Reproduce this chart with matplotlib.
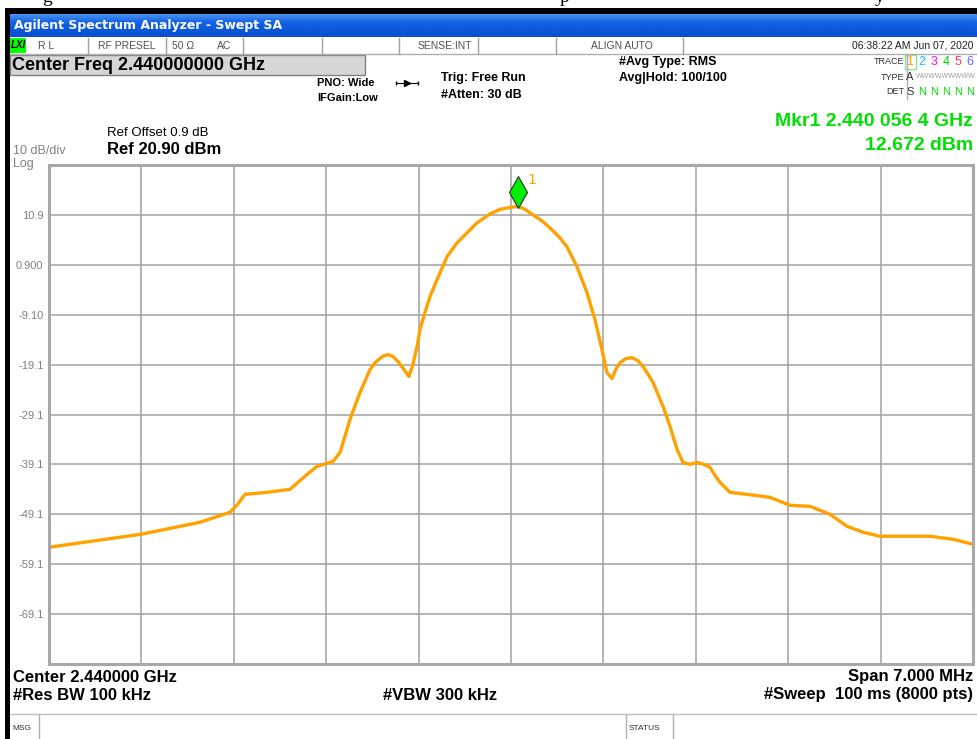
import numpy as np
import matplotlib
matplotlib.use('Agg')
import matplotlib.pyplot as plt
from matplotlib import transforms
from matplotlib.patches import Rectangle

plt.rcParams['font.family'] = ['Liberation Sans', 'DejaVu Sans']

# trace: offset from center (MHz) and level (dBm)
freq_offset_mhz = [-3.500, -2.803, -2.356, -2.129, -2.068, -2.015, -1.848, -1.674,
                   -1.545, -1.470, -1.348, -1.295, -1.220, -1.144, -1.068, -1.030,
                   -0.970, -0.932, -0.894, -0.856, -0.818, -0.773, -0.742, -0.712,
                   -0.689, -0.652, -0.614, -0.561, -0.485, -0.409, -0.333, -0.258,
                   -0.159, -0.083, -0.008, 0.056, 0.106, 0.167, 0.235, 0.295,
                   0.371, 0.424, 0.500, 0.576, 0.636, 0.689, 0.727, 0.765,
                   0.795, 0.826, 0.871, 0.917, 0.962, 1.000, 1.038, 1.076,
                   1.152, 1.205, 1.258, 1.303, 1.356, 1.409, 1.462, 1.508,
                   1.545, 1.583, 1.659, 1.788, 1.962, 2.114, 2.265, 2.417,
                   2.545, 2.667, 2.795, 3.000, 3.174, 3.348, 3.500]
level_dbm = [-55.7, -53.1, -50.7, -48.7, -47.0, -45.1, -44.7, -44.1,
             -41.1, -39.5, -38.5, -36.7, -30.1, -24.7, -20.1, -18.7,
             -17.4, -17.1, -17.5, -18.5, -19.8, -21.5, -19.0, -15.5,
             -12.0, -8.7, -5.5, -2.1, 2.5, 5.3, 7.3, 9.3,
             11.1, 12.0, 12.4, 12.6, 12.0, 10.9, 9.7, 8.3,
             6.3, 4.5, 0.5, -4.7, -10.1, -16.1, -20.7, -21.9,
             -20.0, -18.7, -17.9, -17.7, -18.3, -19.5, -21.0, -22.7,
             -27.5, -31.5, -36.1, -38.7, -39.1, -38.7, -39.1, -39.7,
             -41.3, -42.7, -44.7, -45.1, -45.7, -47.3, -47.5, -49.1,
             -51.5, -52.7, -53.5, -53.5, -53.5, -54.1, -55.1]

span_mhz = 7.0
ref_level = 20.9
db_per_div = 10
y_tick_labels = ['', '10.9', '0.900', '-9.10', '-19.1', '-29.1', '-39.1',
                 '-49.1', '-59.1', '-69.1', '']
mkr_offset_mhz = 0.0564
mkr_level = 12.672

trace_col = '#ffa200'
green = '#00e000'
gray_txt = '#808080'

fig = plt.figure(figsize=(9.77, 7.39), dpi=100)

# screen chrome in pixel coordinates
bg = fig.add_axes([0, 0, 1, 1])
bg.set_xlim(0, 977)
bg.set_ylim(739, 0)
bg.axis('off')

# bits of the document text above the screenshot
for x, s in [(47, 'g'), (565, 'p'), (880, 'y')]:
    bg.text(x, 2, s, fontsize=14, family='Liberation Serif', va='baseline', ha='center')

# black window frame
bg.add_patch(Rectangle((5, 8), 977, 6, color='black', lw=0))
bg.add_patch(Rectangle((5, 8), 5, 740, color='black', lw=0))

# blue title bar
grad = np.linspace(0, 1, 50).reshape(-1, 1)
cmap = matplotlib.colors.LinearSegmentedColormap.from_list(
    'bar', ['#4c93f2', '#1565e6', '#0d58da', '#0a4fcf'])
bg.imshow(grad, cmap=cmap, extent=[10, 977, 37, 14], aspect='auto', zorder=1)
bg.text(14, 26, 'Agilent Spectrum Analyzer - Swept SA', color='white', fontsize=9,
        va='center', ha='left', fontweight='bold', family='DejaVu Sans', zorder=2)

# status row
bg.plot([10, 977], [54, 54], color='#b0b0b0', lw=1)
for x in [88, 166, 243, 322, 399, 478, 556, 683]:
    bg.plot([x, x], [38, 54], color='#a0a0a0', lw=1)
bg.add_patch(Rectangle((10, 38), 16, 15, color='#00ff00', lw=0))
bg.text(18, 45.5, 'LXI', fontsize=7, fontweight='bold', style='italic',
        ha='center', va='center', color='black')
for x, s in [(38, 'R L'), (98, 'RF PRESEL'), (172, '50 Ω'), (217, 'AC'),
             (418, 'SENSE:INT'), (591, 'ALIGN AUTO')]:
    bg.text(x, 46, s, fontsize=7.5, color='#505050', va='center', ha='left')
bg.text(973, 46, '06:38:22 AM Jun 07, 2020', fontsize=7.5, color='#202020',
        va='center', ha='right')

# center freq box
bg.add_patch(Rectangle((10, 55), 355, 20, facecolor='#d6d6d6', edgecolor='#808080', lw=1))
bg.text(12, 65.5, 'Center Freq 2.440000000 GHz', fontsize=13, fontweight='bold',
        va='center', ha='left')

bg.text(317, 83, 'PNO: Wide', fontsize=8, fontweight='bold', va='center')
bg.text(317, 98, 'IFGain:Low', fontsize=8, fontweight='bold', va='center')
bg.plot([396, 418], [83, 83], color='black', lw=0.8)
bg.plot([407], [83], marker='>', ms=4, color='black')
bg.plot([396, 418], [83, 83], marker='|', ms=3, ls='none', color='black')
bg.text(441, 78, 'Trig: Free Run', fontsize=9, fontweight='bold', va='center')
bg.text(441, 95, '#Atten: 30 dB', fontsize=9, fontweight='bold', va='center')
bg.text(619, 62, '#Avg Type: RMS', fontsize=9, fontweight='bold', va='center')
bg.text(619, 78, 'Avg|Hold: 100/100', fontsize=9, fontweight='bold', va='center')

# trace legend box
for y, s in [(62, 'TRACE'), (77, 'TYPE'), (92, 'DET')]:
    bg.text(904, y, s, fontsize=6.5, ha='right', va='center', color='#303030')
bg.plot([907, 907], [55, 99], color='#b0b0b0', lw=1)
bg.add_patch(Rectangle((905, 55), 11, 14, facecolor='none', edgecolor='#90e090', lw=1))
trace_cols = ['#ff9900', '#00c8ff', '#ff00ff', '#00d000', '#ff3366', '#6666ff']
for i, c in enumerate(trace_cols):
    bg.text(910 + 12 * i, 62, str(i + 1), fontsize=9, color=c, ha='center', va='center')
bg.text(910, 77, 'A', fontsize=8, color='#303030', ha='center', va='center')
bg.text(946, 77, 'WWWWWWWWW', fontsize=5, color='#a0a0a0', ha='center', va='center')
bg.text(910, 92, 'S', fontsize=8, color='#303030', ha='center', va='center')
for i in range(1, 6):
    bg.text(910 + 12 * i, 92, 'N', fontsize=8, color=green, ha='center', va='center')

# reference and marker readouts
bg.text(107, 133, 'Ref Offset 0.9 dB', fontsize=9.5, va='center')
bg.text(107, 150, 'Ref 20.90 dBm', fontsize=12, fontweight='bold', va='center')
bg.text(13, 151, '10 dB/div', fontsize=9, color=gray_txt, va='center')
bg.text(13, 164, 'Log', fontsize=9, color=gray_txt, va='center')
bg.text(973, 122, 'Mkr1 2.440 056 4 GHz', fontsize=14, fontweight='bold',
        color=green, ha='right', va='center')
bg.text(973, 145, '12.672 dBm', fontsize=14, fontweight='bold',
        color=green, ha='right', va='center')

# bottom annotations
bg.text(13, 677, 'Center 2.440000 GHz', fontsize=12, fontweight='bold', va='center')
bg.text(13, 695, '#Res BW 100 kHz', fontsize=12, fontweight='bold', va='center')
bg.text(383, 695, '#VBW 300 kHz', fontsize=12, fontweight='bold', va='center')
bg.text(973, 677, 'Span 7.000 MHz', fontsize=12, fontweight='bold', va='center', ha='right')
bg.text(973, 695, '#Sweep  100 ms (8000 pts)', fontsize=12, fontweight='bold',
        va='center', ha='right')

# message bar
bg.plot([10, 977], [714, 714], color='#c0c0c0', lw=1)
for x in [39, 626, 673]:
    bg.plot([x, x], [715, 739], color='#b0b0b0', lw=1)
bg.text(12, 728, 'MSG', fontsize=6, color='#303030', va='center')
bg.text(629, 728, 'STATUS', fontsize=6, color='#303030', va='center')

# graticule
ax = fig.add_axes([49 / 977, (739 - 664) / 739, 924 / 977, 499 / 739])
ax.set_xlim(-span_mhz / 2, span_mhz / 2)
ax.set_ylim(ref_level - 10 * db_per_div, ref_level)
ax.set_xticks(np.linspace(-span_mhz / 2, span_mhz / 2, 11))
ax.set_yticks([ref_level - db_per_div * k for k in range(11)])
ax.set_yticklabels(y_tick_labels)
ax.set_xticklabels([])
ax.tick_params(length=0, labelsize=8, labelcolor=gray_txt, pad=4)
ax.grid(True, color='#a0a0a0', lw=1.1)
ax.set_axisbelow(True)
for sp in ax.spines.values():
    sp.set_color('#a8a8a8')
    sp.set_linewidth(2.2)
ax.patch.set_alpha(0)

ax.plot(freq_offset_mhz, level_dbm, color=trace_col, lw=2.4, solid_joinstyle='round')

mk = transforms.offset_copy(ax.transData, fig=fig, x=0, y=14, units='dots')
ax.plot([mkr_offset_mhz], [mkr_level], marker='d', ms=16, mfc='#00ee00', mec='#303030',
        mew=0.8, transform=mk, clip_on=False)
lab = transforms.offset_copy(ax.transData, fig=fig, x=13, y=26, units='dots')
ax.text(mkr_offset_mhz, mkr_level, '1', color=trace_col, fontsize=10, transform=lab,
        ha='center', va='center', family='DejaVu Sans')

fig.savefig('out.png', dpi=100)
